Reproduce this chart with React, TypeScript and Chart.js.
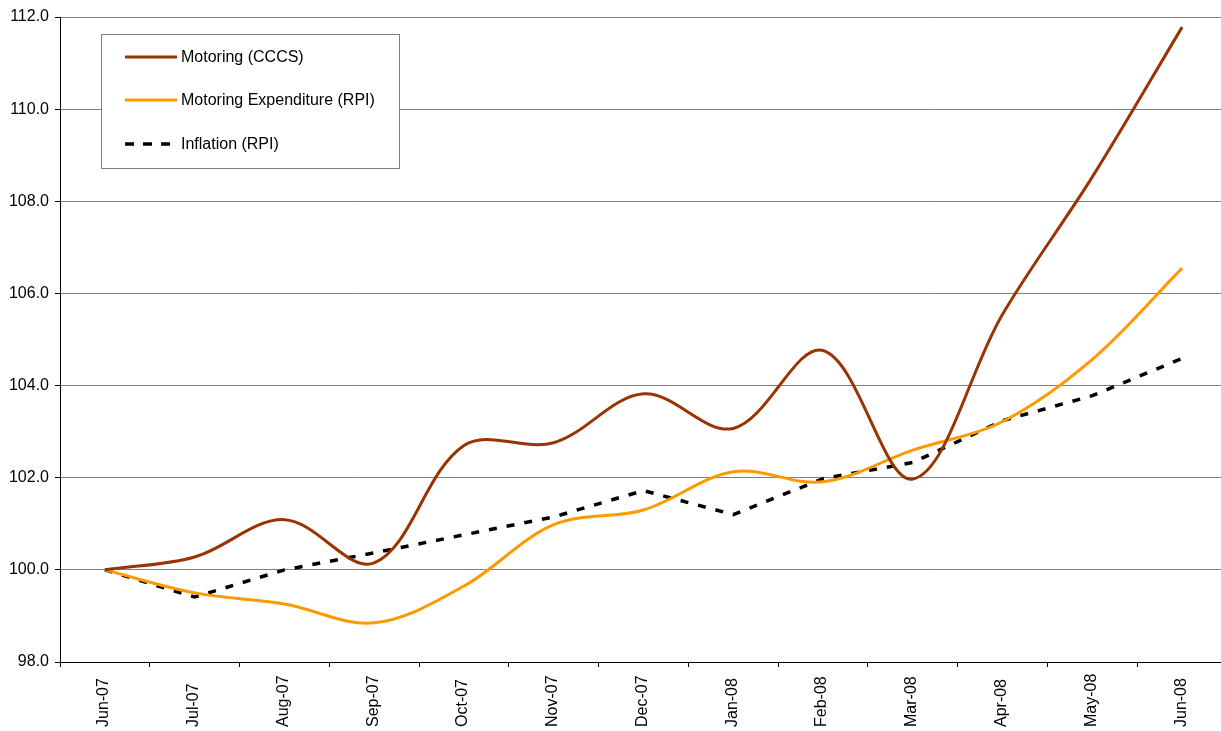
import React, { useEffect, useRef } from "react";
import { Chart, registerables } from "chart.js";

Chart.register(...registerables);

const months = [
  "Jun-07", "Jul-07", "Aug-07", "Sep-07", "Oct-07", "Nov-07", "Dec-07",
  "Jan-08", "Feb-08", "Mar-08", "Apr-08", "May-08", "Jun-08",
];

const motoringCCCS = [
  100.0, 100.28, 101.09, 100.15, 102.7, 102.76, 103.82, 103.07, 104.76, 101.97, 105.55, 108.53, 111.78,
];

const motoringExpenditureRPI = [
  100.0, 99.5, 99.26, 98.85, 99.65, 100.98, 101.3, 102.13, 101.91, 102.6, 103.22, 104.57, 106.55,
];

const inflationRPI = [
  100.0, 99.41, 100.0, 100.37, 100.76, 101.15, 101.72, 101.2, 101.98, 102.33, 103.24, 103.78, 104.59,
];

const yTicks = [98, 100, 102, 104, 106, 108, 110, 112];

const FONT = '"Liberation Sans", Arial, sans-serif';

// Boxed legend floating inside the plot, top-left.
const boxLegend = {
  id: "boxLegend",
  afterDraw(chart: any) {
    const { ctx } = chart;
    const x = 101.5, y = 34.5, w = 298, h = 134;
    ctx.save();
    ctx.fillStyle = "#ffffff";
    ctx.fillRect(x, y, w, h);
    ctx.strokeStyle = "#808080";
    ctx.lineWidth = 1;
    ctx.strokeRect(x, y, w, h);
    const rows = [57, 100, 144];
    chart.data.datasets.forEach((ds: any, i: number) => {
      const ry = rows[i];
      const dashed = Array.isArray(ds.borderDash) && ds.borderDash.length > 0;
      ctx.beginPath();
      ctx.strokeStyle = ds.borderColor;
      ctx.lineWidth = ds.borderWidth;
      ctx.setLineDash(dashed ? [9, 9] : []);
      ctx.moveTo(125, ry);
      ctx.lineTo(dashed ? 170 : 177, ry);
      ctx.stroke();
      ctx.setLineDash([]);
      ctx.fillStyle = "#000000";
      ctx.font = `16px ${FONT}`;
      ctx.textAlign = "left";
      ctx.textBaseline = "middle";
      ctx.fillText(ds.label, 181, ry + 1);
    });
    ctx.restore();
  },
};

// Vertical month labels, reading upward, starting from a common baseline.
const monthLabels = {
  id: "monthLabels",
  afterDraw(chart: any) {
    const { ctx } = chart;
    const xs = chart.scales.x;
    ctx.save();
    ctx.fillStyle = "#000000";
    ctx.font = `16px ${FONT}`;
    ctx.textAlign = "left";
    ctx.textBaseline = "middle";
    months.forEach((m, i) => {
      const px = xs.getPixelForValue(i);
      ctx.save();
      ctx.translate(px - 1, 727);
      ctx.rotate(-Math.PI / 2);
      ctx.fillText(m, 0, 0);
      ctx.restore();
    });
    ctx.restore();
  },
};

export default function App() {
  const ref = useRef<HTMLCanvasElement | null>(null);

  useEffect(() => {
    if (!ref.current) return;
    const chart = new Chart(ref.current, {
      type: "line",
      data: {
        labels: months,
        datasets: [
          {
            label: "Motoring (CCCS)",
            data: motoringCCCS,
            borderColor: "#993300",
            borderWidth: 3,
            pointRadius: 0,
            tension: 0.35,
            fill: false,
          },
          {
            label: "Motoring Expenditure (RPI)",
            data: motoringExpenditureRPI,
            borderColor: "#FF9900",
            borderWidth: 3,
            pointRadius: 0,
            tension: 0.35,
            fill: false,
          },
          {
            label: "Inflation (RPI)",
            data: inflationRPI,
            borderColor: "#000000",
            borderWidth: 3.5,
            borderDash: [8, 10],
            pointRadius: 0,
            tension: 0,
            fill: false,
          },
        ],
      },
      options: {
        responsive: false,
        animation: false,
        layout: { padding: { top: 17, right: 5, left: 0, bottom: 0 } },
        plugins: {
          legend: { display: false },
          tooltip: { enabled: false },
        },
        scales: {
          x: {
            type: "category",
            offset: true,
            grid: {
              offset: true,
              drawOnChartArea: false,
              drawTicks: true,
              tickLength: 5,
              tickColor: "#000000",
            },
            border: { color: "#000000", width: 1 },
            ticks: { display: false },
            afterFit(scale: any) {
              scale.height = 69;
            },
          },
          y: {
            min: 98,
            max: 112,
            afterBuildTicks(scale: any) {
              scale.ticks = yTicks.map((v) => ({ value: v }));
            },
            grid: {
              color: "#808080",
              lineWidth: 1,
              tickLength: 5,
              tickColor: "#000000",
            },
            border: { color: "#000000", width: 1 },
            ticks: {
              color: "#000000",
              padding: 6,
              font: { family: FONT, size: 16 },
              callback: (v: any) => Number(v).toFixed(1),
            },
            afterFit(scale: any) {
              scale.width = 60;
            },
          },
        },
      },
      plugins: [boxLegend, monthLabels],
    });
    return () => chart.destroy();
  }, []);

  return (
    <div
      style={{
        position: "fixed",
        left: 0,
        top: 0,
        width: 1221,
        height: 731,
        overflow: "hidden",
        background: "#ffffff",
      }}
    >
      <canvas ref={ref} width={1232} height={731} style={{ display: "block" }} />
    </div>
  );
}
